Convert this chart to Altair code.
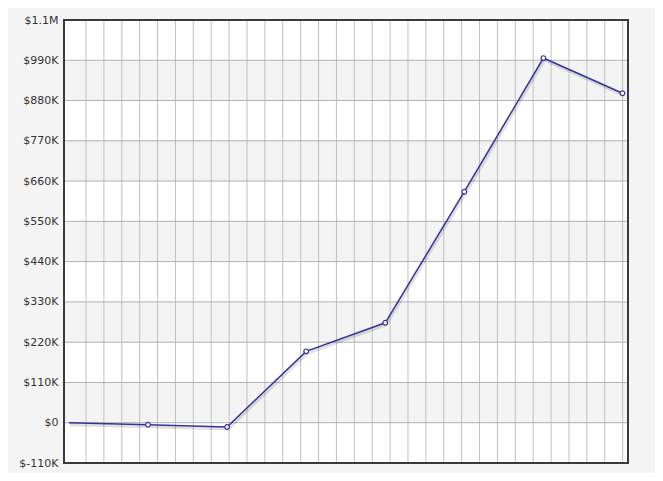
import altair as alt
import pandas as pd

# Data
IDX = [0, 1, 2, 3, 4, 5, 6, 7]
VALUES = [0, -5500, -11700, 195000, 273000, 631000, 996000, 900000]
SHOW_MARKER = [False, True, True, True, True, True, True, True]

Y_TICKS = [-110000, 0, 110000, 220000, 330000, 440000, 550000,
           660000, 770000, 880000, 990000, 1100000]
BAND_LO = [0, 220000, 440000, 660000, 880000]
BAND_HI = [110000, 330000, 550000, 770000, 990000]

GRID_START = 0.216
GRID_STEP = 0.2262
GRID_COUNT = 31
GRID_X = [round(GRID_START + GRID_STEP * k, 4) for k in range(GRID_COUNT)]

X_DOMAIN = [-0.0622, 7.070]
Y_DOMAIN = [-110000, 1100000]

W, H = 564, 443

df = pd.DataFrame({"i": IDX, "v": VALUES, "m": SHOW_MARKER})
bands = pd.DataFrame({"lo": BAND_LO, "hi": BAND_HI})
gx = pd.DataFrame({"g": GRID_X})
gy = pd.DataFrame({"t": Y_TICKS})

xscale = alt.Scale(domain=X_DOMAIN, nice=False, zero=False)
yscale = alt.Scale(domain=Y_DOMAIN, nice=False, zero=False)

yaxis = alt.Axis(
    values=Y_TICKS,
    labelExpr="datum.value == 0 ? '$0' : (abs(datum.value) >= 1000000 ? '$' + (datum.value / 1000000) + 'M' : '$' + (datum.value / 1000) + 'K')",
    domain=False, ticks=False, grid=False, labelPadding=6,
    labelFontSize=11, labelColor="#333333", labelFont="DejaVu Sans",
    labelFlush=False, title=None,
)

band_layer = alt.Chart(bands).mark_rect(color="#f3f3f3").encode(
    x=alt.value(0), x2=alt.value(W),
    y=alt.Y("lo:Q", scale=yscale, axis=yaxis), y2="hi:Q",
)

vgrid = alt.Chart(gx).mark_rule(color="#c0c0c0", strokeWidth=1).encode(
    x=alt.X("g:Q", scale=xscale, axis=None)
)

hgrid = alt.Chart(gy).mark_rule(color="#b0b0b0", strokeWidth=1).encode(
    y=alt.Y("t:Q", scale=yscale, axis=yaxis)
)

shadow = alt.Chart(df).mark_line(color="#000000", opacity=0.12, strokeWidth=3,
                                 xOffset=1, yOffset=2).encode(
    x=alt.X("i:Q", scale=xscale, axis=None),
    y=alt.Y("v:Q", scale=yscale, axis=yaxis),
)

line = alt.Chart(df).mark_line(color="#333399", strokeWidth=1.5).encode(
    x=alt.X("i:Q", scale=xscale, axis=None),
    y=alt.Y("v:Q", scale=yscale, axis=yaxis),
)

points = alt.Chart(df).transform_filter("datum.m").mark_point(
    shape="circle", filled=True, fill="white", stroke="#333399",
    strokeWidth=1.2, size=22, opacity=1,
).encode(
    x=alt.X("i:Q", scale=xscale, axis=None),
    y=alt.Y("v:Q", scale=yscale, axis=yaxis),
)

frame = alt.Chart(pd.DataFrame({"a": [0]})).mark_rect(
    fillOpacity=0, stroke="#3a3a3a", strokeWidth=2
).encode(x=alt.value(0), x2=alt.value(W), y=alt.value(0), y2=alt.value(H))

chart = alt.layer(band_layer, vgrid, hgrid, shadow, line, points, frame).properties(
    width=W, height=H,
    autosize=alt.AutoSizeParams(type="none"),
    padding={"left": 56, "top": 12, "right": 27, "bottom": 10},
    background="#f4f4f4",
).configure_view(strokeWidth=0, fill="white")

chart.save("out.html", embed_options={"renderer": "svg", "actions": False})
